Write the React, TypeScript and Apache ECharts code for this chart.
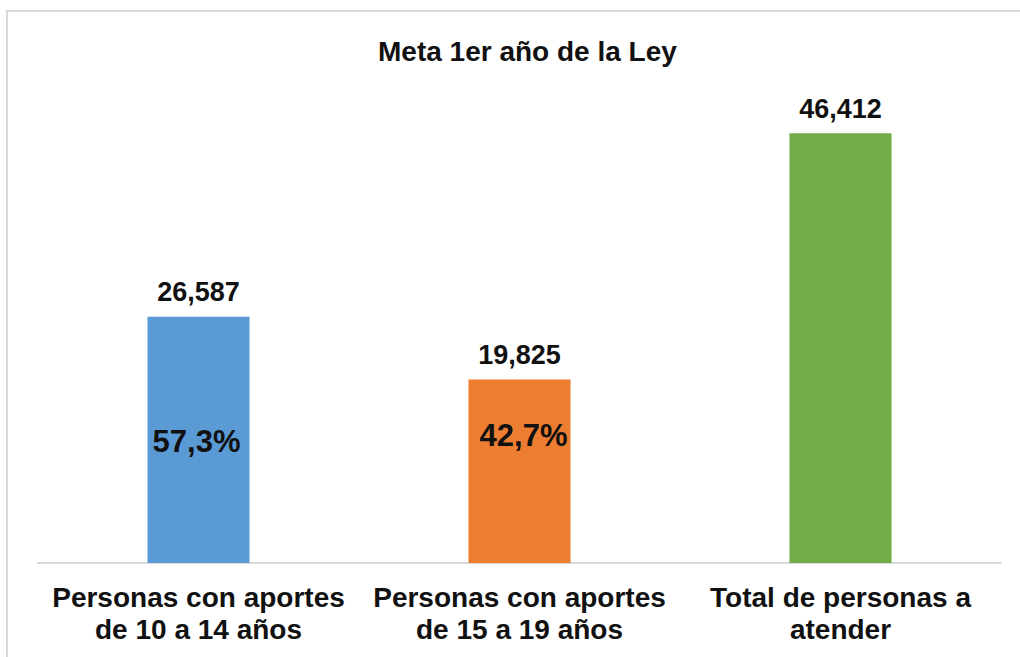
import React, { useEffect, useRef } from "react";
import * as echarts from "echarts";

const categories = [
  "Personas con aportes\nde 10 a 14 años",
  "Personas con aportes\nde 15 a 19 años",
  "Total de personas a\natender",
];
const values = [26587, 19825, 46412];
const percentLabels = ["57,3%", "42,7%", ""];
const colors = ["#5B9BD5", "#ED7D31", "#70AD47"];
const title = "Meta 1er año de la Ley";

const FONT = "'Liberation Sans', Arial, sans-serif";

export default function App() {
  const ref = useRef<HTMLDivElement>(null);
  useEffect(() => {
    if (!ref.current) return;
    const chart = echarts.init(ref.current, undefined, { renderer: "svg" });
    const pctOffsets = [[-2, 2], [4, -36], [0, 0]];
    chart.setOption({
      animation: false,
      backgroundColor: "#ffffff",
      title: {
        text: title,
        left: 373,
        top: 32,
        textStyle: { fontFamily: FONT, fontWeight: "bold", fontSize: 28, color: "#111" },
      },
      graphic: [
        {
          type: "rect",
          shape: { x: 7, y: 11, width: 1030, height: 700 },
          style: { fill: "none", stroke: "#d9d9d9", lineWidth: 2 },
          silent: true,
        },
      ],
      grid: { left: 38, right: 19, top: 100, bottom: 94 },
      xAxis: {
        type: "category",
        data: categories,
        axisLine: { lineStyle: { color: "#d9d9d9", width: 2 } },
        axisTick: { show: false },
        axisLabel: {
          fontFamily: FONT,
          fontWeight: "bold",
          fontSize: 28,
          color: "#111",
          lineHeight: 32,
          margin: 18,
          interval: 0,
        },
      },
      yAxis: {
        type: "value",
        min: 0,
        max: 50000,
        show: false,
        splitLine: { show: false },
      },
      series: [
        {
          type: "bar",
          barWidth: "31.8%",
          data: values.map((v, i) => ({ value: v, itemStyle: { color: colors[i] } })),
          label: {
            show: true,
            position: "top",
            distance: 11,
            fontFamily: FONT,
            fontWeight: "bold",
            fontSize: 27,
            color: "#111",
            formatter: (p: any) => p.value.toLocaleString("en-US"),
          },
        },
        {
          type: "bar",
          barWidth: "31.8%",
          barGap: "-100%",
          silent: true,
          data: values.map((v, i) => ({
            value: v,
            itemStyle: { color: "transparent" },
            label: {
              show: percentLabels[i] !== "",
              position: "inside",
              offset: pctOffsets[i],
              formatter: percentLabels[i],
            },
          })),
          label: {
            fontFamily: FONT,
            fontWeight: "bold",
            fontSize: 31,
            color: "#111",
          },
        },
      ],
    });
    return () => chart.dispose();
  }, []);
  return (
    <div
      ref={ref}
      style={{ position: "fixed", left: 0, top: 0, width: 1020, height: 657, background: "#fff" }}
    />
  );
}
